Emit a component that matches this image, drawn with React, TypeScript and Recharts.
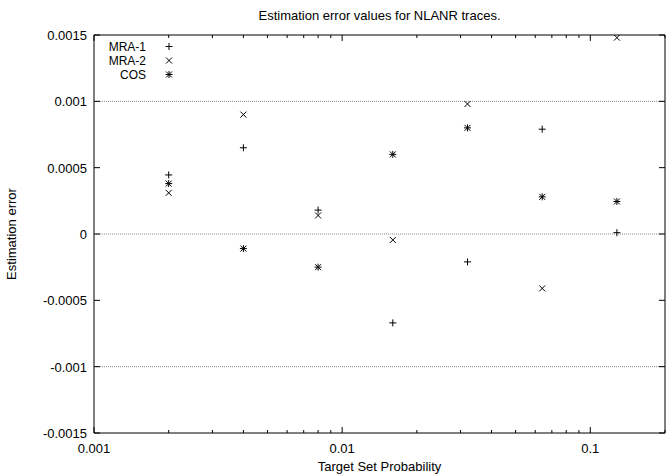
import { ScatterChart, Scatter, XAxis, YAxis, ReferenceLine, ReferenceArea } from 'recharts';

// target set probabilities (log x axis)
const probs = [0.002, 0.004, 0.008, 0.016, 0.032, 0.064, 0.128];

// estimation error per method
const mra1 = [0.000445, 0.00065, 0.00018, -0.00067, -0.00021, 0.00079, 0.00001];
const mra2 = [0.00031, 0.0009, 0.00014, -0.000045, 0.00098, -0.00041, 0.00148];
const cos = [0.00038, -0.00011, -0.00025, 0.0006, 0.0008, 0.00028, 0.000245];

const xMajorTicks = [0.001, 0.01, 0.1];
const xMinorTicks = [
    0.002, 0.003, 0.004, 0.005, 0.006, 0.007, 0.008, 0.009,
    0.02, 0.03, 0.04, 0.05, 0.06, 0.07, 0.08, 0.09,
    0.2,
];
const yTicks = [0.0015, 0.001, 0.0005, 0, -0.0005, -0.001, -0.0015];
const gridLines = [0.001, 0, -0.001];

const W = 666;
const H = 474;
const PLOT_LEFT = 94;
const PLOT_RIGHT = 665;
const PLOT_TOP = 35;
const PLOT_BOTTOM = 433;
const FONT = '"Liberation Sans", Arial, Helvetica, sans-serif';
const FONT_SIZE = 13;

const toPoints = (ys: number[]) => probs.map((x, i) => ({ x, y: ys[i] }));

const plusPath = (cx: number, cy: number) =>
    `M${cx - 3.5},${cy}H${cx + 3.5}M${cx},${cy - 3.5}V${cy + 3.5}`;
const crossPath = (cx: number, cy: number) =>
    `M${cx - 3},${cy - 3}L${cx + 3},${cy + 3}M${cx + 3},${cy - 3}L${cx - 3},${cy + 3}`;
const starPath = (cx: number, cy: number) => plusPath(cx, cy) + crossPath(cx, cy);

const makeShape = (fn: (cx: number, cy: number) => string) => (props: any) => {
    const { cx, cy } = props;
    if (cx == null || cy == null) return <g />;
    return <path d={fn(cx, cy)} stroke="#000" strokeWidth={1} fill="none" />;
};

const series = [
    { name: 'MRA-1', data: toPoints(mra1), path: plusPath },
    { name: 'MRA-2', data: toPoints(mra2), path: crossPath },
    { name: 'COS', data: toPoints(cos), path: starPath },
];

const XTick = (props: any) => {
    const { x, payload } = props;
    const major = xMajorTicks.includes(payload.value);
    const len = major ? 6 : 3;
    return (
        <g>
            <line x1={x} x2={x} y1={PLOT_BOTTOM} y2={PLOT_BOTTOM - len} stroke="#000" />
            <line x1={x} x2={x} y1={PLOT_TOP} y2={PLOT_TOP + len} stroke="#000" />
            {major && (
                <text x={x} y={PLOT_BOTTOM + 20} textAnchor="middle" fontSize={FONT_SIZE} fill="#000" fontFamily={FONT}>
                    {String(payload.value)}
                </text>
            )}
        </g>
    );
};

const YTick = (props: any) => {
    const { y, payload } = props;
    return (
        <g>
            <line x1={PLOT_LEFT} x2={PLOT_LEFT + 6} y1={y} y2={y} stroke="#000" />
            <line x1={PLOT_RIGHT} x2={PLOT_RIGHT - 6} y1={y} y2={y} stroke="#000" />
            <text x={PLOT_LEFT - 7} y={y + 5} textAnchor="end" fontSize={FONT_SIZE} fill="#000" fontFamily={FONT}>
                {String(payload.value)}
            </text>
        </g>
    );
};

const App = () => {
    return (
        <div style={{ position: 'absolute', left: 0, top: 0, width: W, height: H, background: '#fff' }}>
            <ScatterChart
                width={W}
                height={H}
                margin={{ top: PLOT_TOP, right: W - PLOT_RIGHT, bottom: 0, left: 0 }}
            >
                <XAxis
                    type="number"
                    dataKey="x"
                    scale="log"
                    domain={[0.001, 0.2]}
                    ticks={[...xMajorTicks, ...xMinorTicks]}
                    interval={0}
                    height={H - PLOT_BOTTOM}
                    axisLine={false}
                    tickLine={false}
                    tick={<XTick />}
                    allowDataOverflow
                />
                <YAxis
                    type="number"
                    dataKey="y"
                    domain={[-0.0015, 0.0015]}
                    ticks={yTicks}
                    interval={0}
                    width={PLOT_LEFT}
                    axisLine={false}
                    tickLine={false}
                    tick={<YTick />}
                    allowDataOverflow
                />
                {gridLines.map((v) => (
                    <ReferenceLine key={v} y={v} stroke="#888" strokeDasharray="1 1" strokeWidth={1} />
                ))}
                <ReferenceArea
                    x1={0.001}
                    x2={0.2}
                    y1={-0.0015}
                    y2={0.0015}
                    fill="none"
                    fillOpacity={0}
                    stroke="#000"
                    strokeWidth={1}
                    ifOverflow="visible"
                />
                {series.map((s) => (
                    <Scatter
                        key={s.name}
                        name={s.name}
                        data={s.data}
                        shape={makeShape(s.path)}
                        isAnimationActive={false}
                    />
                ))}
            </ScatterChart>
            {/* title, axis titles and key */}
            <svg
                width={W}
                height={H}
                style={{ position: 'absolute', left: 0, top: 0, pointerEvents: 'none' }}
                fontFamily={FONT}
                fontSize={FONT_SIZE}
            >
                <text x={(PLOT_LEFT + PLOT_RIGHT) / 2} y={20} textAnchor="middle" fill="#000">
                    Estimation error values for NLANR traces.
                </text>
                <text x={(PLOT_LEFT + PLOT_RIGHT) / 2} y={471} textAnchor="middle" fill="#000">
                    Target Set Probability
                </text>
                <text
                    x={16}
                    y={(PLOT_TOP + PLOT_BOTTOM) / 2}
                    textAnchor="middle"
                    fill="#000"
                    transform={`rotate(-90, 16, ${(PLOT_TOP + PLOT_BOTTOM) / 2})`}
                >
                    Estimation error
                </text>
                {series.map((s, i) => (
                    <g key={s.name}>
                        <text x={146} y={51 + i * 14} textAnchor="end" fontSize={12} fill="#000">
                            {s.name}
                        </text>
                        <path d={s.path(169, 46.5 + i * 14)} stroke="#000" strokeWidth={1} fill="none" />
                    </g>
                ))}
            </svg>
        </div>
    );
};

export default App;
